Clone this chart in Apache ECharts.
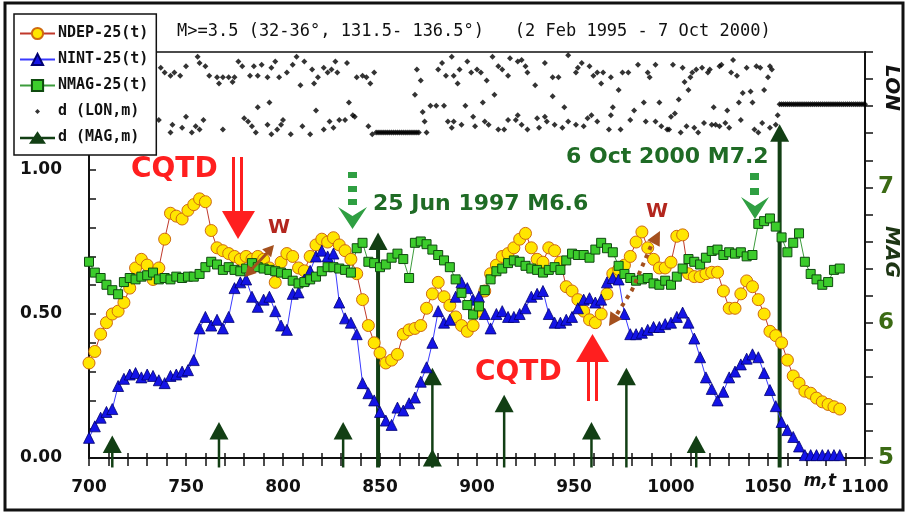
<!DOCTYPE html>
<html>
<head>
<meta charset="utf-8">
<script src="https://cdn.jsdelivr.net/npm/echarts@6/dist/echarts.min.js"></script>
<style>
html, body { margin: 0; padding: 0; background: #fff; }
#chart { width: 907px; height: 515px; }
</style>
</head>
<body>
<div id="chart"></div>
<script>
// m (event count) grid on which the three 25-window curves are read
const mGrid = [
  700, 703, 706, 709, 712, 715, 718, 721, 724, 727,
  730, 733, 736, 739, 742, 745, 748, 751, 754, 757,
  760, 763, 766, 769, 772, 775, 778, 781, 784, 787,
  790, 793, 796, 799, 802, 805, 808, 811, 814, 817,
  820, 823, 826, 829, 832, 835, 838, 841, 844, 847,
  850, 853, 856, 859, 862, 865, 868, 871, 874, 877,
  880, 883, 886, 889, 892, 895, 898, 901, 904, 907,
  910, 913, 916, 919, 922, 925, 928, 931, 934, 937,
  940, 943, 946, 949, 952, 955, 958, 961, 964, 967,
  970, 973, 976, 979, 982, 985, 988, 991, 994, 997,
  1000, 1003, 1006, 1009, 1012, 1015, 1018, 1021, 1024, 1027,
  1030, 1033, 1036, 1039, 1042, 1045, 1048, 1051, 1054, 1057,
  1060, 1063, 1066, 1069, 1072, 1075, 1078, 1081, 1084, 1087
];

const ndep = [
  0.33, 0.37, 0.43, 0.47, 0.50, 0.51, 0.54, 0.59, 0.66, 0.69,
  0.67, 0.62, 0.66, 0.76, 0.85, 0.84, 0.83, 0.86, 0.88, 0.90,
  0.89, 0.79, 0.73, 0.72, 0.71, 0.70, 0.69, 0.70, 0.69, 0.70,
  0.69, 0.66, 0.61, 0.68, 0.71, 0.70, 0.66, 0.65, 0.70, 0.74,
  0.76, 0.75, 0.765, 0.74, 0.72, 0.69, 0.64, 0.55, 0.46, 0.40,
  0.365, 0.33, 0.34, 0.36, 0.43, 0.445, 0.45, 0.46, 0.52, 0.57,
  0.61, 0.56, 0.53, 0.49, 0.46, 0.44, 0.46, 0.51, 0.58, 0.64,
  0.67, 0.70, 0.71, 0.73, 0.76, 0.78, 0.73, 0.69, 0.68, 0.73,
  0.72, 0.68, 0.595, 0.58, 0.55, 0.51, 0.48, 0.47, 0.50, 0.57,
  0.64, 0.655, 0.67, 0.70, 0.75, 0.785, 0.73, 0.69, 0.66, 0.66,
  0.68, 0.77, 0.775, 0.64, 0.63, 0.63, 0.64, 0.645, 0.645, 0.58,
  0.52, 0.52, 0.57, 0.615, 0.595, 0.55, 0.50, 0.44, 0.425, 0.40,
  0.34, 0.285, 0.26, 0.232, 0.225, 0.208, 0.195, 0.186, 0.178, 0.17
];

const nint = [
  0.07, 0.11, 0.14, 0.16, 0.17, 0.25, 0.275, 0.29, 0.295, 0.28,
  0.29, 0.285, 0.27, 0.26, 0.285, 0.29, 0.30, 0.305, 0.34, 0.45,
  0.49, 0.46, 0.48, 0.45, 0.49, 0.59, 0.61, 0.62, 0.56, 0.525,
  0.55, 0.56, 0.51, 0.46, 0.445, 0.57, 0.575, 0.62, 0.65, 0.70,
  0.72, 0.70, 0.71, 0.54, 0.485, 0.47, 0.43, 0.26, 0.225, 0.20,
  0.16, 0.13, 0.115, 0.175, 0.165, 0.19, 0.21, 0.265, 0.315, 0.40,
  0.51, 0.47, 0.48, 0.56, 0.61, 0.59, 0.55, 0.56, 0.50, 0.45,
  0.50, 0.51, 0.49, 0.49, 0.50, 0.52, 0.56, 0.57, 0.58, 0.50,
  0.47, 0.47, 0.48, 0.49, 0.52, 0.55, 0.555, 0.54, 0.55, 0.61,
  0.625, 0.62, 0.50, 0.43, 0.43, 0.435, 0.445, 0.455, 0.455, 0.465,
  0.47, 0.49, 0.505, 0.47, 0.415, 0.35, 0.28, 0.24, 0.20, 0.23,
  0.28, 0.30, 0.325, 0.345, 0.36, 0.35, 0.295, 0.236, 0.18, 0.125,
  0.097, 0.073, 0.04, 0.01, 0.01, 0.01, 0.01, 0.01, 0.01, 0.01
];

// NMAG is read on the right (MAG) scale
const nmag = [
  6.45, 6.37, 6.33, 6.28, 6.24, 6.21, 6.30, 6.33, 6.32, 6.34,
  6.35, 6.37, 6.32, 6.33, 6.32, 6.34, 6.33, 6.34, 6.34, 6.36,
  6.41, 6.45, 6.43, 6.39, 6.41, 6.39, 6.38, 6.40, 6.44, 6.41,
  6.40, 6.39, 6.38, 6.37, 6.36, 6.31, 6.29, 6.30, 6.32, 6.34,
  6.38, 6.41, 6.41, 6.40, 6.39, 6.37, 6.55, 6.59, 6.45, 6.44,
  6.41, 6.43, 6.48, 6.51, 6.47, 6.33, 6.59, 6.60, 6.58, 6.54,
  6.50, 6.46, 6.41, 6.32, 6.22, 6.13, 6.06, 6.12, 6.24, 6.32,
  6.38, 6.40, 6.44, 6.46, 6.45, 6.42, 6.40, 6.39, 6.37, 6.39,
  6.41, 6.39, 6.46, 6.51, 6.50, 6.50, 6.48, 6.54, 6.59, 6.55,
  6.52, 6.42, 6.36, 6.33, 6.31, 6.32, 6.33, 6.29, 6.28, 6.31,
  6.28, 6.34, 6.40, 6.47, 6.45, 6.43, 6.48, 6.53, 6.54, 6.50,
  6.52, 6.51, 6.52, 6.49, 6.50, 6.73, 6.75, 6.77, 6.71, 6.63,
  6.52, 6.59, 6.66, 6.45, 6.36, 6.32, 6.28, 6.30, 6.39, 6.40
];

// d(LON,m): event index and longitude (deg E)
const lonM = [
  737, 739, 742, 744, 747, 750, 756, 757, 760, 762, 766, 767, 769, 772, 774, 775, 777, 779, 783, 785, 787, 789, 792, 794, 796, 798,
  736, 743, 742, 748, 750, 753, 755, 759, 757, 769, 780, 782, 784, 786, 787, 792, 793, 794, 797, 799,
  802, 805, 807, 809, 811, 815, 816, 818, 821, 823, 825, 827, 828, 833, 838, 841, 843, 845, 847, 869, 871, 880, 882, 884, 887, 888, 890, 891, 895, 897, 900,
  800, 804, 810, 814, 817, 821, 824, 826, 829, 832, 834, 836, 837, 844, 846, 868, 872, 873, 874, 876, 879, 883, 885, 887, 888, 892, 894, 898, 899,
  902, 905, 908, 911, 913, 916, 917, 921, 923, 925, 926, 930, 935, 939, 942, 947, 951, 952, 954, 958, 960, 962, 964, 965, 969, 973, 975, 978, 983, 988, 989, 992,
  903, 909, 904, 906, 911, 914, 916, 920, 921, 923, 926, 931, 932, 935, 936, 939, 940, 944, 945, 947, 951, 955, 957, 959, 962, 968, 970, 969, 974, 979, 981, 986, 987, 992, 994, 995, 998, 1000,
  1001, 1006, 1007, 1010, 1011, 1013, 1016, 1019, 1020, 1025, 1026, 1031, 1032, 1034, 1039, 1044, 1046, 1048, 1050, 1051, 1052,
  1004, 1009, 1022, 1029, 1035, 1037, 1041, 1042,
  999, 1002, 1005, 1008, 1012, 1014, 1017, 1021, 1023, 1025, 1028, 1030, 1036, 1043, 1045, 1047, 1051, 1054, 1055,
  848, 849, 850, 851, 852, 853, 854, 855, 856, 857, 858, 859, 860, 861, 862, 863, 864, 865, 866, 867, 868, 869, 870,
  1056, 1057, 1058, 1059, 1060, 1061, 1062, 1063, 1064, 1065, 1066, 1067, 1068, 1069, 1070, 1071, 1072, 1073, 1074, 1075,
  1076, 1077, 1078, 1079, 1080, 1081, 1082, 1083, 1084, 1085, 1086, 1087, 1088, 1089, 1090, 1091, 1092, 1093, 1094, 1095,
  1096, 1097, 1098, 1099, 1100
];
const lonV = [
  135.7, 135.4, 135.2, 135.4, 135.2, 135.8, 136.4, 136.0, 135.8, 135.2, 135.1, 134.7, 135.1, 135.1, 134.8, 135.1, 136.1, 135.8, 135.2, 135.8, 135.2, 135.9, 135.1, 135.7, 136.1, 135.1,
  132.4, 132.1, 131.6, 131.9, 132.6, 131.6, 132.0, 132.4, 131.8, 131.8, 132.5, 132.3, 132.0, 131.6, 133.2, 132.1, 133.5, 131.5, 131.8, 132.1,
  135.4, 135.9, 136.4, 134.6, 136.1, 135.6, 134.7, 135.1, 135.7, 135.4, 135.6, 136.1, 135.4, 136.0, 135.1, 135.2, 135.1, 134.7, 135.4, 135.6, 134.9, 135.6, 136.0, 135.2, 136.4, 135.2, 134.7, 135.6, 136.1, 135.4, 135.6,
  132.4, 131.5, 132.0, 131.5, 133.0, 131.8, 132.3, 131.9, 132.4, 132.4, 133.5, 132.7, 132.6, 132.0, 131.5, 134.0, 132.9, 132.3, 131.6, 133.3, 133.3, 133.3, 132.3, 131.9, 132.3, 132.1, 133.3, 132.6, 132.0,
  135.4, 134.9, 136.4, 135.8, 135.6, 135.2, 136.3, 136.1, 136.2, 135.8, 135.4, 134.6, 136.0, 135.1, 135.1, 136.5, 135.4, 135.7, 136.0, 135.8, 135.2, 135.4, 134.7, 135.4, 135.1, 134.3, 135.4, 135.4, 135.9, 135.4, 135.1, 135.9,
  133.5, 134.0, 132.3, 132.1, 131.8, 131.8, 132.4, 132.4, 132.7, 132.1, 131.8, 132.5, 131.9, 132.6, 132.3, 133.9, 132.1, 131.9, 133.2, 132.3, 132.1, 132.0, 132.5, 132.7, 132.3, 131.8, 133.2, 132.7, 131.8, 132.4, 133.0, 133.5, 132.3, 132.3, 133.5, 132.0, 131.8, 132.6,
  135.9, 135.7, 134.8, 135.1, 135.4, 135.6, 135.7, 135.4, 135.6, 135.8, 135.9, 135.4, 136.2, 135.2, 135.7, 135.8, 135.7, 134.3, 135.1, 135.8, 135.6,
  133.7, 134.3, 133.2, 133.0, 133.5, 134.1, 134.2, 133.5,
  131.8, 132.8, 131.6, 132.0, 131.9, 131.6, 132.2, 132.1, 132.1, 132.0, 132.2, 131.9, 132.4, 131.8, 131.6, 132.2, 131.9, 132.1, 132.7,
  131.6, 131.6, 131.6, 131.6, 131.6, 131.6, 131.6, 131.6, 131.6, 131.6, 131.6, 131.6, 131.6, 131.6, 131.6, 131.6, 131.6, 131.6, 131.6, 131.6, 131.6, 131.6, 131.6,
  133.4, 133.4, 133.4, 133.4, 133.4, 133.4, 133.4, 133.4, 133.4, 133.4, 133.4, 133.4, 133.4, 133.4, 133.4, 133.4, 133.4, 133.4, 133.4, 133.4,
  133.4, 133.4, 133.4, 133.4, 133.4, 133.4, 133.4, 133.4, 133.4, 133.4, 133.4, 133.4, 133.4, 133.4, 133.4, 133.4, 133.4, 133.4, 133.4, 133.4,
  133.4, 133.4, 133.4, 133.4, 133.4
];

// d(MAG,m): large events
const quakeM = [712, 767, 831, 849, 877, 877, 914, 959, 977, 1013, 1056];
const quakeMag = [5.1, 5.2, 5.2, 6.6, 5.6, 5.0, 5.4, 5.2, 5.6, 5.1, 7.4];

const xTicks = [700, 750, 800, 850, 900, 950, 1000, 1050, 1100];
const leftTicks = [0, 0.5, 1.0];
const magTicks = [5, 6, 7];

const FONT = 'DejaVu Sans';
const MONO = 'DejaVu Sans Mono';
const RED = '#ff1f1f';
const BROWN = '#a4501e';
const GARROW = '#2f9f42';
const GTEXT = '#1f6b25';
const STEM = '#123f14';

const chart = echarts.init(document.getElementById('chart'));

function pairs(xs, ys) {
  return xs.map((x, i) => [x, ys[i]]);
}

function head(tx, ty, fx, fy, len, half) {
  const dx = tx - fx, dy = ty - fy, d = Math.hypot(dx, dy);
  const ux = dx / d, uy = dy / d;
  const bx = tx - ux * len, by = ty - uy * len;
  return [[tx, ty], [bx - uy * half, by + ux * half], [bx + uy * half, by - ux * half]];
}

const annotations = [
  // outer frame
  { type: 'rect', shape: { x: 5, y: 3, width: 898, height: 507 }, style: { fill: 'none', stroke: '#111', lineWidth: 3 }, z: 100 },
  // CQTD (top)
  { type: 'text', x: 131, y: 170, style: { text: 'CQTD', fill: RED, font: 'bold 28px "' + FONT + '"', textVerticalAlign: 'middle' }, z: 100 },
  { type: 'line', shape: { x1: 233.5, y1: 157, x2: 233.5, y2: 214 }, style: { stroke: RED, lineWidth: 3 }, z: 100 },
  { type: 'line', shape: { x1: 241.5, y1: 157, x2: 241.5, y2: 214 }, style: { stroke: RED, lineWidth: 3 }, z: 100 },
  { type: 'polygon', shape: { points: [[222, 211], [255, 211], [238, 239]] }, style: { fill: RED }, z: 100 },
  // CQTD (bottom)
  { type: 'text', x: 475, y: 373, style: { text: 'CQTD', fill: RED, font: 'bold 28px "' + FONT + '"', textVerticalAlign: 'middle' }, z: 100 },
  { type: 'line', shape: { x1: 588.5, y1: 360, x2: 588.5, y2: 401 }, style: { stroke: RED, lineWidth: 3 }, z: 100 },
  { type: 'line', shape: { x1: 596.5, y1: 360, x2: 596.5, y2: 401 }, style: { stroke: RED, lineWidth: 3 }, z: 100 },
  { type: 'polygon', shape: { points: [[576, 362], [609, 362], [592.5, 334]] }, style: { fill: RED }, z: 100 },
  // W marks
  { type: 'text', x: 279, y: 228, style: { text: 'W', fill: '#b3261e', font: 'bold 20px "' + FONT + '"', textAlign: 'center', textVerticalAlign: 'middle' }, z: 100 },
  { type: 'text', x: 657, y: 212, style: { text: 'W', fill: '#b3261e', font: 'bold 20px "' + FONT + '"', textAlign: 'center', textVerticalAlign: 'middle' }, z: 100 },
  { type: 'line', shape: { x1: 251, y1: 270, x2: 268, y2: 252 }, style: { stroke: BROWN, lineWidth: 3 }, z: 100 },
  { type: 'polygon', shape: { points: head(274, 245, 246, 276, 11, 6) }, style: { fill: BROWN }, z: 100 },
  { type: 'polygon', shape: { points: head(245, 277, 274, 245, 11, 6) }, style: { fill: BROWN }, z: 100 },
  { type: 'polyline', shape: { points: [[617, 314], [632, 290], [651, 246]] }, style: { stroke: BROWN, lineWidth: 4, lineDash: [4, 5] }, z: 100 },
  { type: 'polygon', shape: { points: head(660, 231, 649, 252, 14, 7) }, style: { fill: BROWN }, z: 100 },
  { type: 'polygon', shape: { points: head(609, 326, 621, 308, 13, 7) }, style: { fill: BROWN }, z: 100 },
  // 25 Jun 1997 M6.6
  { type: 'rect', shape: { x: 348, y: 172, width: 9, height: 6 }, style: { fill: GARROW }, z: 100 },
  { type: 'rect', shape: { x: 348, y: 186, width: 9, height: 6 }, style: { fill: GARROW }, z: 100 },
  { type: 'rect', shape: { x: 348, y: 199, width: 9, height: 6 }, style: { fill: GARROW }, z: 100 },
  { type: 'polygon', shape: { points: [[338, 207], [352.5, 216], [367, 207], [352.5, 229]] }, style: { fill: GARROW }, z: 100 },
  { type: 'text', x: 373, y: 204, style: { text: '25 Jun 1997 M6.6', fill: GTEXT, font: 'bold 22px "' + FONT + '"', textVerticalAlign: 'middle' }, z: 100 },
  // 6 Oct 2000 M7.2
  { type: 'rect', shape: { x: 750, y: 173, width: 9, height: 7 }, style: { fill: GARROW }, z: 100 },
  { type: 'rect', shape: { x: 750, y: 188, width: 9, height: 7 }, style: { fill: GARROW }, z: 100 },
  { type: 'polygon', shape: { points: [[741, 197], [755, 206], [769, 197], [755, 219]] }, style: { fill: GARROW }, z: 100 },
  { type: 'text', x: 566, y: 157, style: { text: '6 Oct 2000 M7.2', fill: GTEXT, font: 'bold 22px "' + FONT + '"', textVerticalAlign: 'middle' }, z: 100 },
  // right axis names
  { type: 'text', x: 891, y: 88, rotation: -Math.PI / 2, style: { text: 'LON', fill: '#111', font: 'italic bold 20px "' + FONT + '"', textAlign: 'center', textVerticalAlign: 'middle' }, z: 100 },
  { type: 'text', x: 891, y: 252, rotation: -Math.PI / 2, style: { text: 'MAG', fill: '#1d3514', font: 'italic bold 20px "' + FONT + '"', textAlign: 'center', textVerticalAlign: 'middle' }, z: 100 },
  // x axis name
  { type: 'text', x: 820, y: 482, style: { text: 'm,t', fill: '#111', font: 'italic bold 17px "' + FONT + '"', textAlign: 'center', textVerticalAlign: 'middle' }, z: 100 }
];

const option = {
  animation: false,
  backgroundColor: '#fff',
  title: {
    text: 'M>=3.5 (32-36°, 131.5- 136.5°)   (2 Feb 1995 - 7 Oct 2000)',
    left: 177,
    top: 23,
    padding: 0,
    textStyle: { fontFamily: MONO, fontSize: 17, fontWeight: 'normal', color: '#111' }
  },
  legend: {
    orient: 'vertical',
    left: 14,
    top: 14,
    padding: [12, 8, 10, 5],
    itemGap: 11,
    itemWidth: 35,
    itemHeight: 14,
    backgroundColor: '#fff',
    borderColor: '#111',
    borderWidth: 1.5,
    selectedMode: false,
    textStyle: { fontFamily: MONO, fontSize: 15, fontWeight: 'bold', color: '#111', padding: [0, 0, 0, -2] },
    data: [
      { name: 'NDEP-25(t)' },
      { name: 'NINT-25(t)' },
      { name: 'NMAG-25(t)' },
      { name: 'd (LON,m)', icon: 'path://M0,0M35,14M17.5,4.5L20,7L17.5,9.5L15,7Z' },
      { name: 'd (MAG,m)', icon: 'path://M0,6H13.8L17.5,0.5L21.2,6H35V8.5H22.9L26,13H9L12.1,8.5H0Z' }
    ]
  },
  grid: {
    left: 89, right: 42, top: 52, bottom: 57,
    show: true, borderColor: '#111', borderWidth: 1.5,
    containLabel: false, outerBoundsMode: 'none'
  },
  xAxis: [
    {
      type: 'value', min: 700, max: 1100, interval: 10,
      axisLine: { show: true, lineStyle: { color: '#111', width: 2 } },
      axisTick: { show: true, length: 8, lineStyle: { color: '#111', width: 1.5 } },
      axisLabel: {
        margin: 21, fontFamily: FONT, fontSize: 17, fontWeight: 'bold', color: '#111',
        formatter: v => (xTicks.indexOf(v) >= 0 ? String(v) : '')
      },
      splitLine: { show: false }
    },
    {
      type: 'value', min: 700, max: 1100, interval: 10, position: 'bottom',
      axisLine: { show: false },
      axisTick: { show: true, inside: true, length: 5, lineStyle: { color: '#111', width: 1.5 } },
      axisLabel: { show: false },
      splitLine: { show: false }
    }
  ],
  yAxis: [
    {
      type: 'value', min: 0, max: 1.41, interval: 0.1, position: 'left',
      axisLine: { show: true, lineStyle: { color: '#111', width: 2 } },
      axisTick: { show: true, inside: true, length: 7, lineStyle: { color: '#111', width: 1.5 } },
      axisLabel: {
        margin: 27, fontFamily: FONT, fontSize: 17, fontWeight: 'bold', color: '#111',
        formatter: v => {
          const r = Math.round(v * 100) / 100;
          return leftTicks.indexOf(r) >= 0 ? r.toFixed(2) : '';
        }
      },
      splitLine: { show: false }
    },
    {
      type: 'value', min: 5, max: 8, interval: 0.2, position: 'right',
      axisLine: { show: true, lineStyle: { color: '#111', width: 2 } },
      axisTick: { show: true, length: 8, lineStyle: { color: '#111', width: 1.5 } },
      axisLabel: {
        margin: 13, fontFamily: FONT, fontSize: 23, fontWeight: 'bold', color: '#3b6a14',
        formatter: v => {
          const r = Math.round(v * 10) / 10;
          return magTicks.indexOf(r) >= 0 ? String(r) : '';
        }
      },
      splitLine: { show: false }
    },
    { type: 'value', min: 111, max: 136.7, show: false }
  ],
  series: [
    {
      name: 'NDEP-25(t)', type: 'line', xAxisIndex: 0, yAxisIndex: 0,
      data: pairs(mGrid, ndep),
      symbol: 'circle', symbolSize: 12,
      lineStyle: { color: '#c0392b', width: 1 },
      itemStyle: { color: '#ffe600', borderColor: '#cf6a10', borderWidth: 1 },
      emphasis: { disabled: true }
    },
    {
      name: 'NINT-25(t)', type: 'line', xAxisIndex: 0, yAxisIndex: 0,
      data: pairs(mGrid, nint),
      symbol: 'triangle', symbolSize: 11,
      lineStyle: { color: '#3a3aff', width: 1 },
      itemStyle: { color: '#1414e6', borderColor: '#000070', borderWidth: 0.8 },
      emphasis: { disabled: true }
    },
    {
      name: 'NMAG-25(t)', type: 'line', xAxisIndex: 0, yAxisIndex: 1,
      data: pairs(mGrid, nmag),
      symbol: 'rect', symbolSize: 9,
      lineStyle: { color: '#3c9c3c', width: 1 },
      itemStyle: { color: '#3ccc2c', borderColor: '#0f4a0f', borderWidth: 1 },
      emphasis: { disabled: true }
    },
    {
      name: 'd (LON,m)', type: 'scatter', xAxisIndex: 0, yAxisIndex: 2,
      data: pairs(lonM, lonV),
      symbol: 'diamond', symbolSize: 6,
      itemStyle: { color: '#000' },
      emphasis: { disabled: true }
    },
    {
      name: 'd (MAG,m)', type: 'custom', xAxisIndex: 0, yAxisIndex: 1,
      data: pairs(quakeM, quakeMag),
      itemStyle: { color: STEM },
      encode: { x: 0, y: 1 },
      renderItem: (params, api) => {
        const x = api.value(0);
        const mag = api.value(1);
        const base = api.coord([x, 4.93]);
        const top = api.coord([x, mag]);
        const w = mag >= 6 ? 4 : 2.5;
        return {
          type: 'group',
          children: [
            { type: 'line', shape: { x1: base[0], y1: base[1], x2: top[0], y2: top[1] }, style: { stroke: STEM, lineWidth: w } },
            { type: 'polygon', shape: { points: [[top[0], top[1] - 9], [top[0] + 9.5, top[1] + 8.5], [top[0] - 9.5, top[1] + 8.5]] }, style: { fill: STEM } }
          ]
        };
      }
    }
  ],
  graphic: { elements: annotations }
};

chart.setOption(option);
</script>
</body>
</html>
